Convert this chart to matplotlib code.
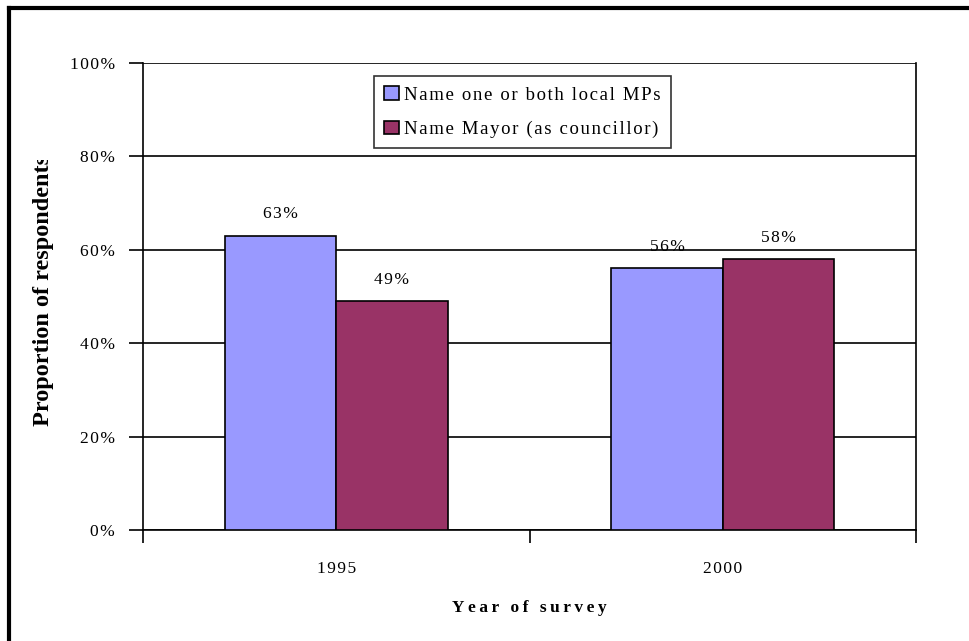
import matplotlib.pyplot as plt
from matplotlib.lines import Line2D
from matplotlib.transforms import Bbox
from matplotlib.ticker import FixedLocator, NullFormatter

years = ["1995", "2000"]
mps = [63, 56]
mayor = [49, 58]
series_names = ["Name one or both local MPs", "Name Mayor (as councillor)"]
y_ticks = [0, 20, 40, 60, 80, 100]

FONT = ["Liberation Serif", "DejaVu Serif"]


def spaced(s, gap="\u200a"):
    # Excel-style letter spacing
    return gap.join(s)


plt.rcParams["font.family"] = FONT
fig = plt.figure(figsize=(9.7, 6.41), dpi=100)
ax = fig.add_axes([143 / 970, 111 / 641, 773 / 970, 467 / 641])

x = [0, 1]
w = 0.288
b1 = ax.bar([i - w / 2 for i in x], mps, w, color="#9999FF", edgecolor="black",
            linewidth=1.2, label=spaced(series_names[0]), zorder=3)
b2 = ax.bar([i + w / 2 for i in x], mayor, w, color="#993366", edgecolor="black",
            linewidth=1.2, label=spaced(series_names[1]), zorder=3)

# value labels sit under the gridlines
for bars, vals in ((b1, mps), (b2, mayor)):
    for r, v in zip(bars, vals):
        ax.text(r.get_x() + r.get_width() / 2, v + 4.6, spaced(f"{v}%"),
                ha="center", va="center", fontsize=12.5, zorder=0.4)

ax.set_xlim(-0.5, 1.5)
ax.set_ylim(0, 100)
ax.set_yticks(y_ticks)
ax.set_yticklabels([spaced(f"{t}%") for t in y_ticks], fontsize=12.5)
ax.yaxis.grid(True, color="black", linewidth=1.2)
ax.set_axisbelow(True)

# category boundaries carry the tick marks, centres carry the labels
ax.xaxis.set_major_locator(FixedLocator([-0.5, 0.5, 1.5]))
ax.xaxis.set_major_formatter(NullFormatter())
ax.xaxis.set_minor_locator(FixedLocator(x))
ax.set_xticklabels([spaced(y) for y in years], minor=True, fontsize=12.5)
ax.tick_params(axis="x", which="major", length=9, width=1.2, direction="out")
ax.tick_params(axis="x", which="minor", length=0, pad=22)
ax.tick_params(axis="y", length=10, width=1.2, pad=10)

for side in ("left", "bottom", "right"):
    ax.spines[side].set_linewidth(1.2)
ax.spines["top"].set_visible(False)

ax.set_xlabel(spaced("Year of survey", "\u2009"), fontsize=12.5, fontweight="bold",
              labelpad=17)

# y label is cut off at the top, as in the original export
ylab = fig.text(44 / 970, 1 - 290 / 641, "Proportion of respondents", rotation=90,
                ha="center", va="center", fontsize=17.5, fontweight="bold")
ylab.set_clip_on(True)
ylab.set_clip_box(Bbox.from_extents(0, 0, 970, 641 - 160))

leg = ax.legend(loc="upper center", bbox_to_anchor=(0.491, 0.972), fontsize=13.5,
                frameon=True, fancybox=False, edgecolor="black", handlelength=0.75,
                handleheight=0.75, handletextpad=0.3, labelspacing=0.9,
                borderpad=0.55, borderaxespad=0)
leg.get_frame().set_linewidth(1.2)

# outer chart frame (left and top edges only)
fig.add_artist(Line2D([9 / 970, 9 / 970], [0, 1 - 8 / 641], color="black", linewidth=3,
                      transform=fig.transFigure))
fig.add_artist(Line2D([9 / 970, 1], [1 - 8 / 641, 1 - 8 / 641], color="black", linewidth=3,
                      transform=fig.transFigure))

fig.savefig("out.png", dpi=100)
